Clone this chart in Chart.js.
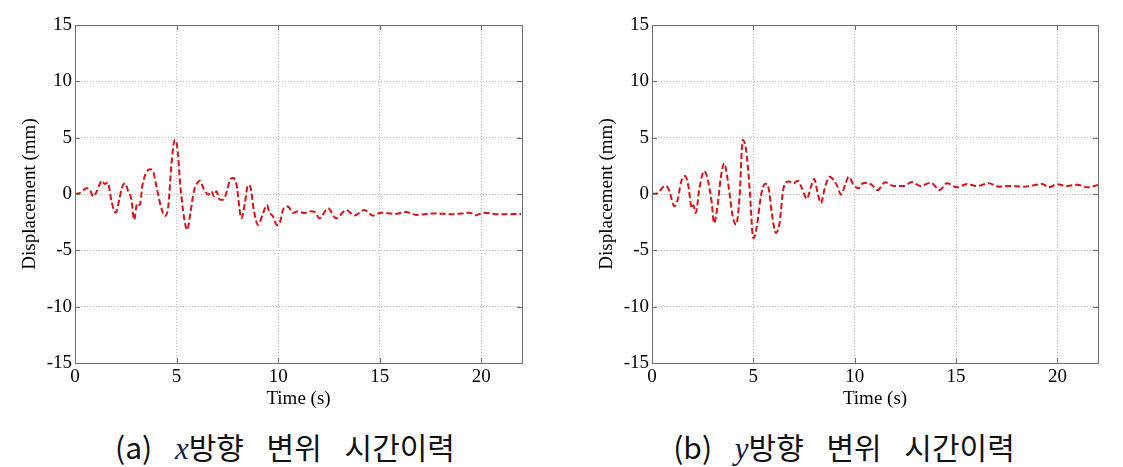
<!DOCTYPE html>
<html>
<head>
<meta charset="utf-8">
<script src="https://cdn.jsdelivr.net/npm/chart.js@4"></script>
<style>
  html, body { margin: 0; padding: 0; background: #ffffff; }
  body { width: 1123px; height: 467px; position: relative; overflow: hidden; }
  canvas { position: absolute; top: 0; }
  #cA { left: 0; }
  #cB { left: 560px; }
  .cap {
    position: absolute; top: 426px; height: 40px; line-height: 40px;
    font-family: "Noto Sans CJK KR", "Noto Sans", sans-serif; font-size: 30px;
    color: #111; white-space: pre; word-spacing: 16px; transform: translateX(-50%);
  }
  .cap i { font-family: "Liberation Serif", serif; font-style: italic; font-size: 31px; color: #1a1a40; }
</style>
</head>
<body>
<canvas id="cA" width="560" height="420"></canvas>
<canvas id="cB" width="563" height="420"></canvas>
<div class="cap" style="left:285px">(a) <i>x</i>방향 변위 시간이력</div>
<div class="cap" style="left:844px">(b) <i>y</i>방향 변위 시간이력</div>
<script>
// ---- data ----
const xTicks = [0, 5, 10, 15, 20];
const yTicks = [-15, -10, -5, 0, 5, 10, 15];
const xTitle = "Time (s)";
const yTitle = "Displacement (mm)";

const timeA = [0,0.25,0.57,0.74,0.9,1.06,1.2,1.31,1.47,1.61,1.8,2.0,2.18,2.29,2.46,2.62,2.78,2.91,3.06,3.19,3.32,3.69,3.85,4.01,4.23,4.42,4.59,4.75,4.91,5.03,5.19,5.36,5.52,5.68,5.85,6.01,6.14,6.34,6.55,6.72,6.83,6.96,7.13,7.29,7.45,7.65,7.81,7.95,8.19,8.36,8.52,8.63,8.8,9.01,9.26,9.45,9.55,9.75,9.94,10.07,10.27,10.48,10.73,10.97,11.3,11.55,11.8,12.04,12.45,12.86,13.35,13.76,14.25,14.66,15.07,15.72,16.3,16.79,17.6,18.59,19.41,19.74,20.07,20.88,21.95];
const dispA = [0,0.1,0.5,0.36,-0.24,0.2,0.8,1.18,0.88,1.03,-0.68,-1.66,-0.5,0.44,0.95,0.24,-0.5,-2.3,-0.83,-0.98,0.8,2.19,1.98,0.65,-1.12,-1.95,-1.12,2.72,4.79,4.2,0.65,-2.01,-3.19,-1.69,0.24,0.95,1.18,0.44,-0.06,0.24,-0.2,0.24,-0.5,-0.5,0.1,1.33,1.42,0.83,-2.16,-0.83,0.8,0.65,-1.42,-2.75,-1.69,-0.98,-1.54,-2.01,-2.75,-2.6,-1.27,-1.12,-1.69,-1.54,-1.69,-1.54,-1.6,-2.16,-1.27,-2.16,-1.42,-1.9,-1.42,-1.92,-1.66,-1.77,-1.6,-1.86,-1.72,-1.8,-1.66,-1.89,-1.66,-1.8,-1.77];

const timeB = [0,0.31,0.48,0.69,0.86,1.1,1.27,1.42,1.63,1.8,1.96,2.04,2.16,2.34,2.58,2.78,2.95,3.06,3.23,3.39,3.56,3.72,3.82,3.98,4.15,4.31,4.48,4.64,4.81,5.0,5.17,5.37,5.58,5.75,5.91,6.11,6.29,6.49,6.73,6.98,7.18,7.39,7.64,7.84,8.0,8.17,8.33,8.54,8.76,8.96,9.15,9.32,9.53,9.7,9.94,10.19,10.4,10.6,10.85,11.13,11.5,11.92,12.41,12.82,13.23,13.76,14.19,14.55,15.04,15.54,16.03,16.61,17.1,17.68,18.34,18.83,19.25,19.57,19.98,20.48,20.97,21.47,22.0];
const dispB = [0,0.1,0.5,0.74,0.24,-1.09,-0.5,0.98,1.6,0.65,-1.27,-1.0,-1.69,0.53,2.04,1.04,-0.8,-2.6,-1.09,1.42,2.72,1.42,0.1,-1.98,-2.72,-0.5,4.79,3.9,0.65,-3.93,-2.9,-0.2,0.92,0.53,-1.69,-3.46,-2.6,0.53,1.12,0.95,1.18,0.53,-0.44,0.65,1.33,0.1,-0.8,0.65,1.53,1.24,0.65,-0.06,0.83,1.53,0.83,0.5,0.95,1.0,0.8,0.35,1.04,0.71,0.71,1.06,0.71,1.0,0.35,0.95,0.59,0.89,0.71,0.95,0.65,0.71,0.65,0.77,0.89,0.59,0.86,0.71,0.83,0.59,0.8];

// ---- frame plugin: box + inward tick marks (MATLAB style) ----
const framePlugin = {
  id: 'frame',
  afterDraw(chart) {
    const {ctx, chartArea: a, scales} = chart;
    ctx.save();
    ctx.strokeStyle = '#6e6e6e';
    ctx.lineWidth = 1;
    ctx.setLineDash([]);
    ctx.strokeRect(Math.round(a.left) + 0.5, Math.round(a.top) + 0.5,
                   Math.round(a.right - a.left), Math.round(a.bottom - a.top));
    const L = 5;
    ctx.beginPath();
    scales.x.ticks.forEach(t => {
      const px = Math.round(scales.x.getPixelForValue(t.value)) + 0.5;
      ctx.moveTo(px, a.bottom); ctx.lineTo(px, a.bottom - L);
      ctx.moveTo(px, a.top); ctx.lineTo(px, a.top + L);
    });
    scales.y.ticks.forEach(t => {
      const py = Math.round(scales.y.getPixelForValue(t.value)) + 0.5;
      ctx.moveTo(a.left, py); ctx.lineTo(a.left + L, py);
      ctx.moveTo(a.right, py); ctx.lineTo(a.right - L, py);
    });
    ctx.stroke();
    ctx.restore();
  }
};

function makeChart(id, times, disps, yAxisWidth, yTitlePad, padRight) {
  const pts = times.map((t, i) => ({x: t, y: disps[i]}));
  return new Chart(document.getElementById(id), {
    type: 'line',
    data: {
      datasets: [{
        data: pts,
        borderColor: 'rgb(215,18,22)',
        borderWidth: 2,
        borderDash: [6, 3],
        pointRadius: 0,
        fill: false,
        cubicInterpolationMode: 'monotone'
      }]
    },
    options: {
      responsive: false,
      animation: false,
      events: [],
      layout: { padding: { top: 25, right: padRight, left: 0, bottom: 0 } },
      plugins: { legend: { display: false }, tooltip: { enabled: false } },
      scales: {
        x: {
          type: 'linear', min: 0, max: 22,
          afterBuildTicks: s => { s.ticks = xTicks.map(v => ({value: v})); },
          afterFit: s => { s.height = 57; },
          ticks: { color: '#000', padding: 3, maxRotation: 0, autoSkip: false,
                   font: { family: "'Liberation Serif', serif", size: 19 },
                   callback: v => String(v) },
          grid: { color: '#bdbdbd', lineWidth: 1, drawTicks: false },
          border: { display: false, dash: [1, 2] },
          title: { display: true, text: xTitle, color: '#000',
                   font: { family: "'Liberation Serif', serif", size: 19 }, padding: { top: 0, bottom: 10 } }
        },
        y: {
          type: 'linear', min: -15, max: 15,
          afterBuildTicks: s => { s.ticks = yTicks.map(v => ({value: v})); },
          afterFit: s => { s.width = yAxisWidth; },
          ticks: { color: '#000', padding: 3, autoSkip: false,
                   font: { family: "'Liberation Serif', serif", size: 19 },
                   callback: v => String(v) },
          grid: { color: '#bdbdbd', lineWidth: 1, drawTicks: false },
          border: { display: false, dash: [1, 2] },
          title: { display: true, text: yTitle, color: '#000',
                   font: { family: "'Liberation Serif', serif", size: 19 }, padding: { top: yTitlePad, bottom: 0 } }
        }
      }
    },
    plugins: [framePlugin]
  });
}

makeChart('cA', timeA, dispA, 75, 19, 38);
makeChart('cB', timeB, dispB, 92, 36, 25);
</script>
</body>
</html>
